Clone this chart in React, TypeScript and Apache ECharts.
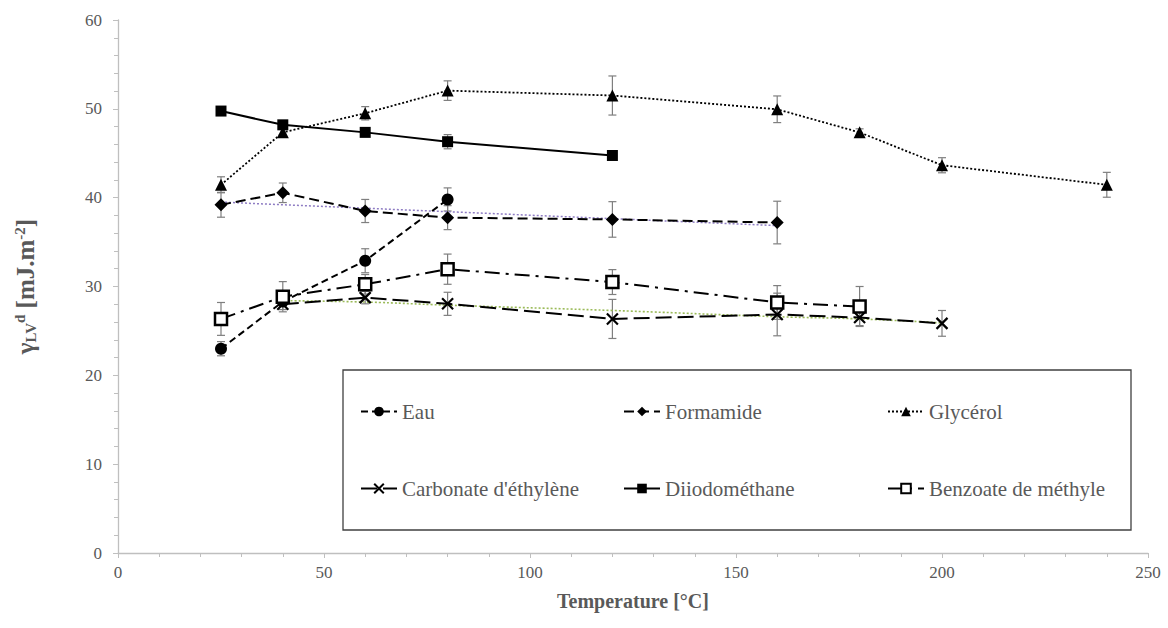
import React, { useEffect, useRef } from "react";
import * as echarts from "echarts";

// ---- data ----
const xEau = [25, 40, 60, 80];
const yEau = [23.0, 28.3, 32.9, 39.8];
const eEau = [0.8, 0.5, 1.35, 1.3];

const xForm = [25, 40, 60, 80, 120, 160];
const yForm = [39.2, 40.55, 38.5, 37.75, 37.55, 37.2];
const eForm = [1.4, 1.1, 1.3, 1.35, 2.0, 2.4];

const xGly = [25, 40, 60, 80, 120, 160, 180, 200, 240];
const yGly = [41.45, 47.35, 49.5, 52.05, 51.5, 49.95, 47.35, 43.65, 41.45];
const eGly = [0.9, 0.5, 0.75, 1.1, 2.2, 1.5, 0.4, 0.85, 1.4];

const xCarb = [40, 60, 80, 120, 160, 180, 200];
const yCarb = [28.0, 28.75, 28.05, 26.35, 26.85, 26.5, 25.85];
const eCarb = [0.6, 0.7, 1.3, 2.2, 2.4, 0.9, 1.45];

const xDiio = [25, 40, 60, 80, 120];
const yDiio = [49.75, 48.2, 47.35, 46.3, 44.75];
const eDiio = [0.3, 0.4, 0.3, 0.8, 0.3];

const xBenz = [25, 40, 60, 80, 120, 160, 180];
const yBenz = [26.35, 28.85, 30.25, 31.95, 30.5, 28.2, 27.75];
const eBenz = [1.85, 1.7, 1.1, 1.7, 1.4, 1.9, 2.25];

// trendlines
const xTrendForm = [25, 160];
const yTrendForm = [39.5, 36.85];
const xTrendCarb = [40, 60, 80, 120, 160, 180, 200];
const yTrendCarb = [28.4, 28.25, 27.9, 27.3, 26.6, 26.35, 25.9];

const xTicks = { min: 0, max: 250, interval: 50 };
const yTicks = { min: 0, max: 60, interval: 10 };

const names = [
  "Eau",
  "Formamide",
  "Glycérol",
  "Carbonate d'éthylène",
  "Diiodométhane",
  "Benzoate de méthyle",
];

const FONT = "'Liberation Serif', 'Times New Roman', Times, 'DejaVu Serif', serif";
const GREY = "#595959";
const AXIS = "#bfbfbf";

function pairs(xs: number[], ys: number[]) {
  return xs.map((x, i) => [x, ys[i]]);
}

function errSeries(name: string, xs: number[], ys: number[], es: number[]) {
  return {
    type: "custom",
    name: name + " (err)",
    data: xs.map((x, i) => [x, ys[i] - es[i], ys[i] + es[i]]),
    encode: { x: 0, y: [1, 2] },
    z: 1,
    silent: true,
    renderItem: (params: any, api: any) => {
      const x = api.value(0);
      const lo = api.coord([x, api.value(1)]);
      const hi = api.coord([x, api.value(2)]);
      const w = 4;
      const style = { stroke: "#7f7f7f", lineWidth: 1.2 };
      return {
        type: "group",
        children: [
          { type: "line", shape: { x1: lo[0], y1: lo[1], x2: hi[0], y2: hi[1] }, style },
          { type: "line", shape: { x1: lo[0] - w, y1: lo[1], x2: lo[0] + w, y2: lo[1] }, style },
          { type: "line", shape: { x1: hi[0] - w, y1: hi[1], x2: hi[0] + w, y2: hi[1] }, style },
        ],
      };
    },
  };
}

function lineSeries(
  name: string,
  xs: number[],
  ys: number[],
  symbol: string,
  symbolSize: number,
  dash: any,
  width: number,
  itemStyle: any
) {
  return {
    type: "line",
    name,
    data: pairs(xs, ys),
    symbol,
    symbolSize,
    z: 3,
    lineStyle: { color: "#000", width, type: dash },
    itemStyle,
  };
}

const filled = { color: "#000", borderColor: "#000", borderWidth: 0 };

export default function App() {
  const ref = useRef<HTMLDivElement>(null);
  useEffect(() => {
    if (!ref.current) return;
    const chart = echarts.init(ref.current, null, { renderer: "svg" });
    const legendPos = [
      [360, 401],
      [623, 401],
      [887, 401],
      [360, 478],
      [623, 478],
      [887, 478],
    ];
    const option: any = {
      animation: false,
      backgroundColor: "#fff",
      textStyle: { fontFamily: FONT },
      grid: { left: 118, right: 20, top: 20, bottom: 75, outerBoundsMode: "none" },
      xAxis: {
        type: "value",
        ...xTicks,
        name: "Temperature [°C]",
        nameLocation: "middle",
        nameGap: 38,
        nameTextStyle: { fontFamily: FONT, fontWeight: "bold", fontSize: 20, color: GREY },
        axisLine: { show: true, lineStyle: { color: AXIS, width: 1.3 } },
        axisTick: { show: true, length: 5, lineStyle: { color: AXIS } },
        minorTick: { show: true, splitNumber: 5, length: 4, lineStyle: { color: AXIS } },
        splitLine: { show: false },
        axisLabel: { fontFamily: FONT, fontSize: 17, color: GREY, margin: 11 },
      },
      yAxis: {
        type: "value",
        ...yTicks,
        name: "{a|γ}{sub|LV}{sup|d}{a| [mJ.m}{sup|-2}{a|]}",
        nameLocation: "middle",
        nameGap: 80,
        nameTextStyle: {
          fontFamily: FONT,
          fontWeight: "bold",
          fontSize: 24,
          color: GREY,
          rich: {
            a: { fontFamily: FONT, fontWeight: "bold", fontSize: 25, color: GREY, lineHeight: 26 },
            sub: { fontFamily: FONT, fontWeight: "bold", fontSize: 15, color: GREY, verticalAlign: "bottom" },
            sup: { fontFamily: FONT, fontWeight: "bold", fontSize: 15, color: GREY, verticalAlign: "top" },
          },
        },
        axisLine: { show: true, lineStyle: { color: AXIS, width: 1.3 } },
        axisTick: { show: true, length: 5, lineStyle: { color: AXIS } },
        minorTick: { show: true, splitNumber: 5, length: 4, lineStyle: { color: AXIS } },
        splitLine: { show: false },
        axisLabel: { fontFamily: FONT, fontSize: 17, color: GREY, margin: 16 },
      },
      legend: names.map((n, i) => ({
        data: [n],
        left: legendPos[i][0],
        top: legendPos[i][1],
        padding: 0,
        itemWidth: 36,
        itemHeight: 12,
        selectedMode: false,
        textStyle: { fontFamily: FONT, fontSize: 21, color: GREY },
      })),
      graphic: [
        {
          type: "rect",
          shape: { x: 343, y: 370, width: 788, height: 160 },
          style: { fill: "none", stroke: "#404040", lineWidth: 1.3 },
          z: 0,
        },
      ],
      series: [
        errSeries("Eau", xEau, yEau, eEau),
        errSeries("Formamide", xForm, yForm, eForm),
        errSeries("Glycérol", xGly, yGly, eGly),
        errSeries("Carbonate", xCarb, yCarb, eCarb),
        errSeries("Diiodo", xDiio, yDiio, eDiio),
        errSeries("Benzoate", xBenz, yBenz, eBenz),
        {
          type: "line",
          name: "trend form",
          data: pairs(xTrendForm, yTrendForm),
          symbol: "none",
          z: 2,
          silent: true,
          lineStyle: { color: "#8e7cc3", width: 1.5, type: [2, 2] },
        },
        {
          type: "line",
          name: "trend carb",
          data: pairs(xTrendCarb, yTrendCarb),
          symbol: "none",
          smooth: true,
          z: 2,
          silent: true,
          lineStyle: { color: "#9bbb59", width: 1.6, type: [2, 2] },
        },
        lineSeries(names[0], xEau, yEau, "circle", 12, [7, 4], 2, filled),
        lineSeries(names[1], xForm, yForm, "diamond", 13, [10, 5], 2, filled),
        lineSeries(names[2], xGly, yGly, "triangle", 12, [2, 2], 1.8, filled),
        lineSeries(
          names[3],
          xCarb,
          yCarb,
          "path://M0,0L10,10M10,0L0,10",
          11,
          [16, 6],
          2,
          { color: "#000", borderColor: "#000", borderWidth: 2.2 }
        ),
        lineSeries(names[4], xDiio, yDiio, "rect", 11, "solid", 2, filled),
        lineSeries(names[5], xBenz, yBenz, "rect", 12, [15, 6, 3, 6], 2, {
          color: "#fff",
          borderColor: "#000",
          borderWidth: 2.5,
        }),
      ],
    };
    chart.setOption(option);
    return () => chart.dispose();
  }, []);
  return (
    <div
      ref={ref}
      style={{ position: "fixed", left: 0, top: 0, width: 1168, height: 628, background: "#fff" }}
    />
  );
}
